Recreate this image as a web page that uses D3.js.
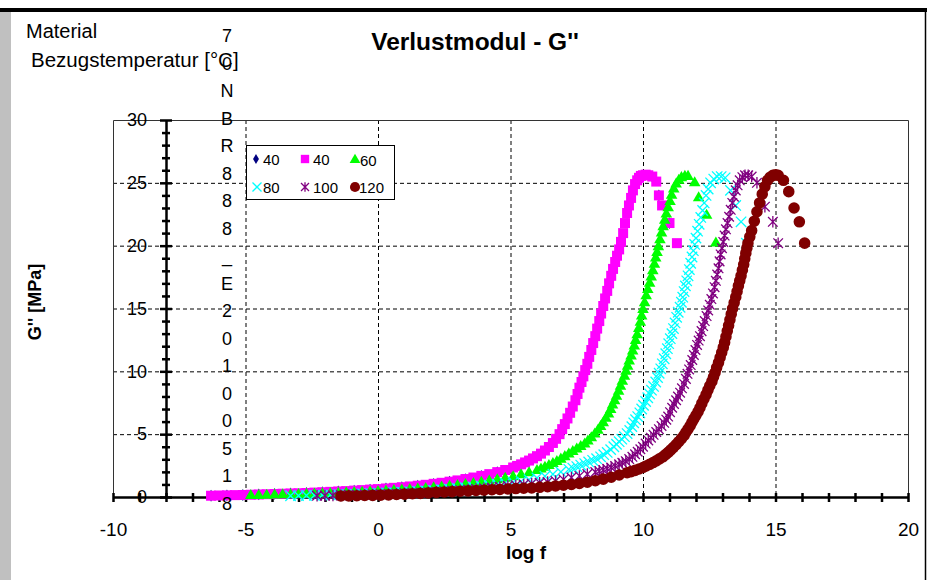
<!DOCTYPE html>
<html><head><meta charset="utf-8">
<script src="https://cdn.jsdelivr.net/npm/d3@7"></script>
<style>
html,body{margin:0;padding:0;background:#fff;}
svg{display:block;font-family:"Liberation Sans",Arial,sans-serif;}
</style></head>
<body>
<svg id="c" width="929" height="580"></svg>
<script>
// ---- data (log f, G'' [MPa]) ----
const seriesNames = ["40", "40", "60", "80", "100", "120"];
const tempLabel = "70NBR888_E20100518";
const xTicks = [-10, -5, 0, 5, 10, 15, 20];
const yTicks = [0, 5, 10, 15, 20, 25, 30];

const s40sq = [[-6.3,0.10],[-6.0,0.12],[-5.7,0.13],[-5.4,0.15],[-5.1,0.16],[-4.8,0.18],[-4.5,0.20],[-4.2,0.22],[-3.9,0.24],[-3.6,0.26],[-3.3,0.28],[-3.0,0.30],[-2.7,0.32],[-2.4,0.35],[-2.1,0.38],[-1.8,0.41],[-1.5,0.44],[-1.2,0.47],[-0.9,0.51],[-0.6,0.55],[-0.3,0.59],[0.0,0.63],[0.3,0.68],[0.6,0.73],[0.9,0.78],[1.2,0.84],[1.5,0.90],[1.8,0.97],[2.1,1.05],[2.4,1.13],[2.7,1.22],[3.0,1.32],[3.3,1.43],[3.6,1.55],[3.9,1.68],[4.2,1.82],[4.5,1.98],[4.8,2.15],[5.1,2.35],[5.25,2.47],[5.4,2.6],[5.55,2.75],[5.7,2.9],[5.85,3.07],[6.0,3.25],[6.15,3.45],[6.3,3.7],[6.45,3.98],[6.6,4.3],[6.72,4.63],[6.85,5.0],[6.95,5.4],[7.05,5.8],[7.15,6.25],[7.25,6.7],[7.35,7.2],[7.45,7.7],[7.53,8.2],[7.6,8.7],[7.68,9.15],[7.75,9.6],[7.82,10.1],[7.9,10.6],[7.97,11.15],[8.05,11.7],[8.12,12.25],[8.2,12.8],[8.27,13.4],[8.35,14.0],[8.42,14.6],[8.5,15.2],[8.57,15.8],[8.65,16.4],[8.72,17.0],[8.8,17.6],[8.87,18.15],[8.95,18.7],[9.02,19.2],[9.1,19.7],[9.17,20.3],[9.25,21.0],[9.32,21.8],[9.4,22.6],[9.47,23.2],[9.55,23.8],[9.62,24.4],[9.7,24.9],[9.78,25.2],[9.85,25.4],[9.92,25.55],[10.0,25.6],[10.1,25.65],[10.2,25.6],[10.35,25.5],[10.5,25.1],[10.6,24.0],[10.72,23.2],[11.0,21.8],[11.28,20.2]];
const s40dia = [[-6.3,0.10],[-5.7,0.13],[-5.1,0.16],[-4.5,0.20],[-3.9,0.24],[-3.3,0.28],[-2.7,0.32],[-2.1,0.38],[-1.5,0.44],[-0.9,0.51],[-0.3,0.59],[0.3,0.68],[0.9,0.78],[1.5,0.90],[2.1,1.05],[2.7,1.22],[3.3,1.43],[3.9,1.68],[4.5,1.98],[5.1,2.35],[5.7,2.9],[6.3,3.7],[6.85,5.0],[7.25,6.7],[7.6,8.7],[7.9,10.6],[8.2,12.8],[8.5,15.2],[8.8,17.6],[9.1,19.7],[9.4,22.6],[9.7,24.9],[10.0,25.6],[10.35,25.5],[10.6,24.0],[11.0,21.8]];
const s60 = [[-4.8,0.10],[-4.5,0.11],[-4.2,0.13],[-3.9,0.14],[-3.6,0.16],[-3.3,0.17],[-3.0,0.19],[-2.7,0.21],[-2.4,0.23],[-2.1,0.25],[-1.8,0.27],[-1.5,0.29],[-1.2,0.32],[-0.9,0.34],[-0.6,0.37],[-0.3,0.40],[0.0,0.43],[0.3,0.46],[0.6,0.50],[0.9,0.54],[1.2,0.58],[1.5,0.62],[1.8,0.67],[2.1,0.72],[2.4,0.78],[2.7,0.84],[3.0,0.91],[3.3,0.98],[3.6,1.06],[3.9,1.15],[4.2,1.25],[4.5,1.36],[4.8,1.48],[5.1,1.6],[5.4,1.75],[5.7,1.92],[6.0,2.1],[6.15,2.22],[6.3,2.35],[6.45,2.5],[6.6,2.65],[6.75,2.82],[6.9,3.0],[7.05,3.2],[7.2,3.4],[7.35,3.6],[7.5,3.8],[7.65,4.0],[7.8,4.2],[7.92,4.45],[8.05,4.7],[8.18,5.0],[8.3,5.3],[8.4,5.6],[8.5,5.9],[8.6,6.25],[8.7,6.6],[8.78,6.95],[8.85,7.3],[8.93,7.65],[9.0,8.0],[9.08,8.4],[9.15,8.8],[9.22,9.2],[9.3,9.6],[9.36,10.0],[9.42,10.4],[9.48,10.8],[9.55,11.2],[9.61,11.6],[9.67,12.0],[9.72,12.45],[9.78,12.9],[9.84,13.4],[9.9,13.9],[9.95,14.4],[10.0,14.9],[10.06,15.45],[10.12,16.0],[10.18,16.5],[10.25,17.0],[10.31,17.5],[10.37,18.0],[10.43,18.5],[10.48,19.0],[10.53,19.45],[10.58,19.9],[10.64,20.45],[10.7,21.0],[10.76,21.5],[10.82,22.0],[10.88,22.5],[10.95,23.0],[11.02,23.5],[11.08,24.0],[11.16,24.5],[11.25,24.9],[11.35,25.2],[11.45,25.4],[11.58,25.5],[11.7,25.5],[11.95,25.0],[12.1,23.8],[12.4,22.4],[12.75,20.2]];
const s80 = [[-3.3,0.10],[-3.0,0.11],[-2.7,0.12],[-2.4,0.14],[-2.1,0.15],[-1.8,0.17],[-1.5,0.19],[-1.2,0.21],[-0.9,0.23],[-0.6,0.25],[-0.3,0.27],[0.0,0.30],[0.3,0.32],[0.6,0.35],[0.9,0.38],[1.2,0.41],[1.5,0.45],[1.8,0.49],[2.1,0.53],[2.4,0.58],[2.7,0.63],[3.0,0.68],[3.3,0.74],[3.6,0.80],[3.9,0.87],[4.2,0.94],[4.5,1.02],[4.8,1.10],[5.1,1.18],[5.4,1.25],[5.7,1.38],[6.0,1.52],[6.3,1.66],[6.6,1.82],[6.9,2.0],[7.2,2.2],[7.35,2.3],[7.5,2.42],[7.65,2.54],[7.8,2.66],[7.95,2.79],[8.1,2.92],[8.25,3.05],[8.4,3.2],[8.52,3.37],[8.65,3.55],[8.78,3.77],[8.9,4.0],[9.0,4.2],[9.1,4.4],[9.2,4.6],[9.3,4.8],[9.4,5.05],[9.5,5.3],[9.58,5.6],[9.65,5.9],[9.72,6.15],[9.8,6.4],[9.88,6.7],[9.95,7.0],[10.02,7.3],[10.1,7.6],[10.18,7.9],[10.25,8.2],[10.32,8.5],[10.4,8.8],[10.48,9.15],[10.55,9.5],[10.61,9.85],[10.67,10.2],[10.73,10.6],[10.8,11.0],[10.86,11.4],[10.92,11.8],[10.97,12.2],[11.03,12.6],[11.09,13.0],[11.15,13.4],[11.21,13.85],[11.27,14.3],[11.33,14.7],[11.4,15.1],[11.45,15.5],[11.5,15.9],[11.55,16.35],[11.6,16.8],[11.65,17.2],[11.7,17.6],[11.75,18.1],[11.8,18.6],[11.85,19.1],[11.9,19.6],[11.95,20.1],[12.0,20.6],[12.06,21.15],[12.12,21.7],[12.18,22.25],[12.25,22.8],[12.31,23.4],[12.38,24.0],[12.46,24.5],[12.55,25.0],[12.67,25.3],[12.8,25.5],[12.95,25.5],[13.1,25.4],[13.3,24.4],[13.5,23.2],[13.7,21.9],[13.9,20.2]];
const s100 = [[-2.3,0.10],[-2.0,0.11],[-1.7,0.12],[-1.4,0.13],[-1.1,0.15],[-0.8,0.16],[-0.5,0.18],[-0.2,0.20],[0.1,0.22],[0.4,0.24],[0.7,0.26],[1.0,0.29],[1.3,0.31],[1.6,0.34],[1.9,0.37],[2.2,0.41],[2.5,0.45],[2.8,0.49],[3.1,0.53],[3.4,0.58],[3.7,0.63],[4.0,0.69],[4.3,0.75],[4.6,0.82],[4.9,0.89],[5.2,0.94],[5.5,0.99],[5.8,1.06],[6.1,1.13],[6.4,1.19],[6.7,1.28],[7.0,1.40],[7.3,1.55],[7.6,1.68],[7.9,1.82],[8.2,1.98],[8.35,2.06],[8.5,2.15],[8.65,2.25],[8.8,2.35],[8.95,2.47],[9.1,2.6],[9.22,2.72],[9.35,2.85],[9.48,3.02],[9.6,3.2],[9.7,3.4],[9.8,3.6],[9.9,3.8],[10.0,4.0],[10.1,4.25],[10.2,4.5],[10.3,4.72],[10.4,4.95],[10.5,5.17],[10.6,5.4],[10.7,5.65],[10.8,5.9],[10.88,6.15],[10.95,6.4],[11.02,6.75],[11.1,7.1],[11.17,7.4],[11.25,7.7],[11.32,8.0],[11.4,8.3],[11.47,8.65],[11.55,9.0],[11.62,9.4],[11.68,9.8],[11.74,10.15],[11.8,10.5],[11.86,10.9],[11.92,11.3],[11.98,11.7],[12.04,12.1],[12.1,12.45],[12.15,12.8],[12.21,13.2],[12.27,13.6],[12.33,14.0],[12.4,14.4],[12.46,14.85],[12.52,15.3],[12.58,15.75],[12.64,16.2],[12.7,16.7],[12.75,17.2],[12.8,17.7],[12.85,18.2],[12.89,18.75],[12.93,19.3],[12.98,19.8],[13.03,20.3],[13.08,20.8],[13.13,21.3],[13.19,21.8],[13.25,22.3],[13.31,22.85],[13.37,23.4],[13.43,23.9],[13.5,24.4],[13.57,24.8],[13.65,25.2],[13.75,25.45],[13.85,25.6],[13.97,25.6],[14.1,25.5],[14.3,25.0],[14.6,23.1],[14.9,21.9],[15.1,20.2]];
const s120 = [[-1.4,0.08],[-1.1,0.09],[-0.8,0.10],[-0.5,0.12],[-0.2,0.13],[0.1,0.15],[0.4,0.17],[0.7,0.20],[1.0,0.23],[1.3,0.26],[1.6,0.29],[1.9,0.33],[2.2,0.37],[2.5,0.40],[2.8,0.43],[3.1,0.46],[3.4,0.49],[3.7,0.52],[4.0,0.55],[4.3,0.58],[4.6,0.60],[4.9,0.64],[5.2,0.67],[5.5,0.70],[5.8,0.72],[6.1,0.77],[6.4,0.82],[6.7,0.88],[7.0,0.94],[7.3,1.00],[7.6,1.08],[7.9,1.18],[8.2,1.30],[8.5,1.42],[8.8,1.57],[9.1,1.75],[9.4,1.93],[9.55,2.02],[9.7,2.12],[9.85,2.23],[10.0,2.35],[10.12,2.47],[10.25,2.6],[10.38,2.74],[10.5,2.88],[10.62,3.04],[10.75,3.2],[10.85,3.37],[10.95,3.55],[11.05,3.75],[11.15,3.95],[11.25,4.17],[11.35,4.4],[11.45,4.65],[11.55,4.9],[11.62,5.15],[11.7,5.4],[11.78,5.67],[11.85,5.95],[11.92,6.22],[12.0,6.5],[12.08,6.8],[12.15,7.1],[12.22,7.45],[12.3,7.8],[12.38,8.15],[12.45,8.5],[12.52,8.85],[12.6,9.2],[12.66,9.55],[12.72,9.9],[12.78,10.3],[12.85,10.7],[12.91,11.1],[12.97,11.5],[13.03,11.9],[13.08,12.3],[13.13,12.75],[13.18,13.2],[13.23,13.65],[13.28,14.1],[13.33,14.55],[13.38,15.0],[13.44,15.45],[13.5,15.9],[13.55,16.35],[13.6,16.8],[13.65,17.2],[13.7,17.6],[13.75,18.05],[13.8,18.5],[13.84,18.95],[13.88,19.4],[13.92,19.8],[13.96,20.2],[14.03,20.7],[14.1,21.2],[14.2,21.95],[14.3,22.7],[14.4,23.4],[14.5,24.1],[14.6,24.7],[14.7,25.2],[14.8,25.45],[14.9,25.6],[15.0,25.65],[15.1,25.6],[15.3,25.2],[15.5,24.3],[15.7,23.0],[15.9,21.9],[16.1,20.2]];

// ---- drawing ----
const svg = d3.select("#c");
const FONT = "'Liberation Sans', Arial, sans-serif";
const x = d3.scaleLinear().domain([-10, 20]).range([113, 908]);
const y = d3.scaleLinear().domain([0, 30]).range([497, 120]);
const plainNum = d => String(d);

// page frame
svg.append("rect").attr("x",0).attr("y",0).attr("width",929).attr("height",580).attr("fill","#fff");
svg.append("rect").attr("x",0).attr("y",12).attr("width",11).attr("height",568).attr("fill","#c0c0c0");
svg.append("rect").attr("x",0).attr("y",8).attr("width",927).attr("height",4).attr("fill","#000");
svg.append("line").attr("x1",925.5).attr("x2",925.5).attr("y1",10).attr("y2",580).attr("stroke","#000").attr("stroke-width",1.5);

// gridlines
const grid = svg.append("g");
grid.selectAll(".hg").data(yTicks.filter(v => v > 0 && v < 30)).join("line")
  .attr("x1", x(-10)).attr("x2", x(20)).attr("y1", d => y(d)+0.5).attr("y2", d => y(d)+0.5)
  .attr("stroke","#000").attr("stroke-width",1).attr("stroke-dasharray","4,3");
grid.selectAll(".vg").data(xTicks.filter(v => v > -10 && v < 20)).join("line")
  .attr("x1", d => x(d)+0.5).attr("x2", d => x(d)+0.5).attr("y1", y(30)).attr("y2", y(0))
  .attr("stroke","#000").attr("stroke-width",1).attr("stroke-dasharray","4,3");

// plot frame (top, left, right)
svg.append("path").attr("d", `M${x(-10)+0.5},${y(0)} V${y(30)+0.5} H${x(20)+0.5} V${y(0)}`)
  .attr("fill","none").attr("stroke","#333").attr("stroke-width",1);

// x axis at y = 0
const xAxisG = svg.append("g").attr("transform", `translate(0,${y(0)})`)
  .call(d3.axisBottom(x).tickValues(d3.range(-10, 21, 1)).tickSize(4).tickSizeOuter(0).tickFormat(""));
xAxisG.select(".domain").attr("stroke","#000").attr("stroke-width",2.5);
xAxisG.selectAll(".tick line").attr("y1",-4).attr("y2",5).attr("stroke","#000").attr("stroke-width",2.5);
const xLab = svg.append("g").attr("transform", `translate(0,${y(0)})`)
  .call(d3.axisBottom(x).tickValues(xTicks).tickSize(0).tickPadding(26).tickFormat(plainNum));
xLab.select(".domain").remove();
xLab.selectAll("text").attr("font-family",FONT).attr("font-size",19).attr("fill","#000");

// y axis at x = -8
const yAxisG = svg.append("g").attr("transform", `translate(${x(-8)},0)`)
  .call(d3.axisLeft(y).tickValues(d3.range(0, 31, 1)).tickSize(4).tickSizeOuter(0).tickFormat(""));
yAxisG.select(".domain").attr("stroke","#000").attr("stroke-width",2.5);
yAxisG.selectAll(".tick line").attr("x1", d => d % 5 === 0 ? -6 : -4).attr("x2", d => d % 5 === 0 ? 6 : 4)
  .attr("stroke","#000").attr("stroke-width",2.5);
const yLab = svg.append("g").attr("transform", `translate(${x(-8)},0)`)
  .call(d3.axisLeft(y).tickValues(yTicks).tickSize(0).tickPadding(19).tickFormat(plainNum));
yLab.select(".domain").remove();
yLab.selectAll("text").attr("font-family",FONT).attr("font-size",18).attr("fill","#000");

// marker helpers
const sym = (type, size) => d3.symbol().type(type).size(size)();
const crossPath = r => `M${-r},${-r}L${r},${r}M${-r},${r}L${r},${-r}`;
const starPath = r => `M${-r},${-r}L${r},${r}M${-r},${r}L${r},${-r}M0,${-r*1.2}L0,${r*1.2}`;

const series = [
  {data: s40dia, d: sym(d3.symbolDiamond, 40), fill: "#000080", stroke: "none", lg: sym(d3.symbolDiamond, 30)},
  {data: s40sq, d: sym(d3.symbolSquare, 100), fill: "#ff00ff", stroke: "none", lg: sym(d3.symbolSquare, 70)},
  {data: s60, d: sym(d3.symbolTriangle, 58), fill: "#00ff00", stroke: "none", lg: sym(d3.symbolTriangle, 50)},
  {data: s80, d: crossPath(5.2), fill: "none", stroke: "#00ffff", lg: crossPath(4.5)},
  {data: s100, d: starPath(4.8), fill: "none", stroke: "#800080", lg: starPath(4)},
  {data: s120, d: sym(d3.symbolCircle, 105), fill: "#800000", stroke: "none", lg: sym(d3.symbolCircle, 80)}
];

const plot = svg.append("g");
series.forEach(s => {
  plot.append("g").selectAll("path").data(s.data).join("path")
    .attr("transform", d => `translate(${x(d[0])},${y(d[1])})`)
    .attr("d", s.d).attr("fill", s.fill).attr("stroke", s.stroke).attr("stroke-width", 1.3);
});

// legend
const lg = svg.append("g");
lg.append("rect").attr("x",246.5).attr("y",145.5).attr("width",148).attr("height",54)
  .attr("fill","#fff").attr("stroke","#000").attr("stroke-width",1);
const lgPos = [[256,159],[305,159],[355,160],[257,187],[305,187],[355,187]];
const lgText = [263,313,360,263,313,359];
series.forEach((s, i) => {
  lg.append("path").attr("transform", `translate(${lgPos[i][0]},${lgPos[i][1]})`)
    .attr("d", s.lg).attr("fill", s.fill).attr("stroke", s.stroke).attr("stroke-width", 1.3);
  lg.append("text").attr("x", lgText[i]).attr("y", lgPos[i][1] + 6)
    .attr("font-family",FONT).attr("font-size",15).attr("fill","#000").text(seriesNames[i]);
});

// texts
svg.append("text").attr("x",26).attr("y",38).attr("font-family",FONT).attr("font-size",20).attr("fill","#000").text("Material");
svg.append("text").attr("x",31).attr("y",67).attr("font-family",FONT).attr("font-size",20.5).attr("fill","#000").text("Bezugstemperatur [°C]");
svg.append("g").selectAll("text").data(tempLabel.split("")).join("text")
  .attr("x",227).attr("y",(d,i) => 42 + i*27.5).attr("text-anchor","middle")
  .attr("font-family",FONT).attr("font-size",18).attr("fill","#000").text(d => d);
svg.append("text").attr("x",475).attr("y",50).attr("text-anchor","middle").attr("font-family",FONT)
  .attr("font-size",24.5).attr("font-weight","bold").attr("fill","#000").text("Verlustmodul - G''");
svg.append("text").attr("transform","translate(41,302) rotate(-90)").attr("text-anchor","middle")
  .attr("font-family",FONT).attr("font-size",18).attr("font-weight","bold").attr("fill","#000").text("G'' [MPa]");
svg.append("text").attr("x",526).attr("y",559).attr("text-anchor","middle").attr("font-family",FONT)
  .attr("font-size",19).attr("font-weight","bold").attr("fill","#000").text("log f");
</script>
</body></html>
